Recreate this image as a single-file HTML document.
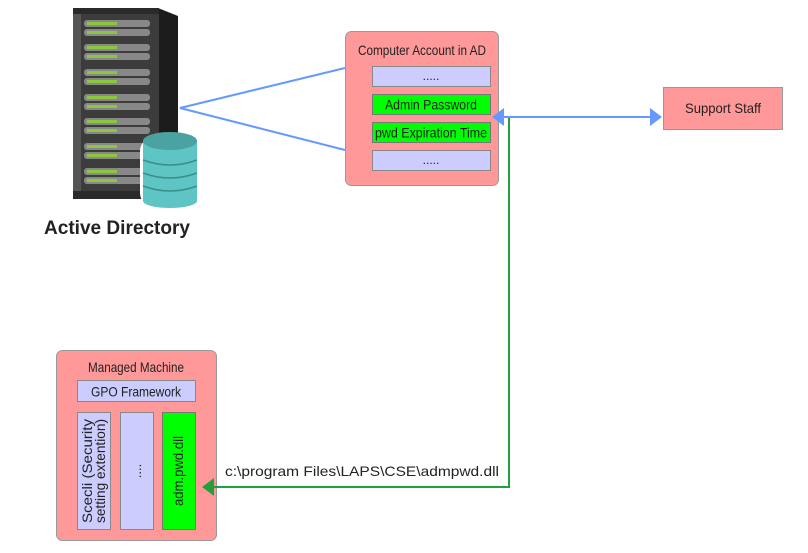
<!DOCTYPE html>
<html><head><style>
body{margin:0;width:808px;height:548px;background:#fff;overflow:hidden}
</style></head><body>
<svg width="808" height="548" xmlns="http://www.w3.org/2000/svg" font-family="Liberation Sans, sans-serif">
<!-- server -->
<polygon points="158,8 178,16 178,199 158,199" fill="#1c1c1c"/>
<rect x="73" y="8" width="86" height="191" fill="#3c3c3c"/>
<rect x="73" y="8" width="86" height="6" fill="#2a2a2a"/>
<rect x="73" y="191" width="86" height="8" fill="#2a2a2a"/>
<rect x="73" y="14" width="8" height="177" fill="#555"/>
<g>
<rect x="84" y="20" width="66" height="7" rx="3" fill="#888"/><rect x="87" y="22" width="30" height="3" fill="#8dc63f"/>
<rect x="84" y="29" width="66" height="7" rx="3" fill="#888"/><rect x="87" y="31" width="30" height="3" fill="#8dc63f"/>
<rect x="84" y="44" width="66" height="7" rx="3" fill="#888"/><rect x="87" y="46" width="30" height="3" fill="#8dc63f"/>
<rect x="84" y="53" width="66" height="7" rx="3" fill="#888"/><rect x="87" y="55" width="30" height="3" fill="#8dc63f"/>
<rect x="84" y="69" width="66" height="7" rx="3" fill="#888"/><rect x="87" y="71" width="30" height="3" fill="#8dc63f"/>
<rect x="84" y="78" width="66" height="7" rx="3" fill="#888"/><rect x="87" y="80" width="30" height="3" fill="#8dc63f"/>
<rect x="84" y="94" width="66" height="7" rx="3" fill="#888"/><rect x="87" y="96" width="30" height="3" fill="#8dc63f"/>
<rect x="84" y="103" width="66" height="7" rx="3" fill="#888"/><rect x="87" y="105" width="30" height="3" fill="#8dc63f"/>
<rect x="84" y="118" width="66" height="7" rx="3" fill="#888"/><rect x="87" y="120" width="30" height="3" fill="#8dc63f"/>
<rect x="84" y="127" width="66" height="7" rx="3" fill="#888"/><rect x="87" y="129" width="30" height="3" fill="#8dc63f"/>
<rect x="84" y="143" width="66" height="7" rx="3" fill="#888"/><rect x="87" y="145" width="30" height="3" fill="#8dc63f"/>
<rect x="84" y="152" width="66" height="7" rx="3" fill="#888"/><rect x="87" y="154" width="30" height="3" fill="#8dc63f"/>
<rect x="84" y="168" width="66" height="7" rx="3" fill="#888"/><rect x="87" y="170" width="30" height="3" fill="#8dc63f"/>
<rect x="84" y="177" width="66" height="7" rx="3" fill="#888"/><rect x="87" y="179" width="30" height="3" fill="#8dc63f"/>
</g>
<!-- database -->
<rect x="140" y="137" width="60" height="70" rx="14" fill="#fff"/>
<rect x="143" y="141" width="54" height="60" fill="#5ec4c4"/>
<ellipse cx="170" cy="201" rx="27" ry="7" fill="#5ec4c4"/>
<ellipse cx="170" cy="141" rx="27" ry="9" fill="#4aa3a0"/>
<path d="M143 160 Q170 170 197 160 M143 173 Q170 183 197 173 M143 186 Q170 196 197 186" stroke="#3a8f8c" stroke-width="1.5" fill="none"/>
<text x="117" y="234" font-size="19" font-weight="bold" fill="#222" text-anchor="middle" textLength="146" lengthAdjust="spacingAndGlyphs">Active Directory</text>
<!-- blue lines -->
<polyline points="345,68 180,108 345,150" stroke="#6699ff" stroke-width="2" fill="none"/>
<!-- computer account box -->
<rect x="345.5" y="31.5" width="153" height="154" rx="6" fill="#ff9999" stroke="#999"/>
<text x="422" y="55" font-size="14" text-anchor="middle" fill="#222" textLength="128" lengthAdjust="spacingAndGlyphs">Computer Account in AD</text>
<rect x="372.5" y="66.5" width="118" height="20" fill="#ccccff" stroke="#888"/>
<text x="431" y="80" font-size="12" text-anchor="middle" fill="#222">.....</text>
<rect x="372.5" y="94.5" width="118" height="20" fill="#00ff00" stroke="#777"/>
<text x="431" y="109.5" font-size="14" text-anchor="middle" fill="#222" textLength="92" lengthAdjust="spacingAndGlyphs">Admin Password</text>
<rect x="372.5" y="122.5" width="118" height="20" fill="#00ff00" stroke="#777"/>
<text x="431" y="137.5" font-size="14" text-anchor="middle" fill="#222" textLength="112" lengthAdjust="spacingAndGlyphs">pwd Expiration Time</text>
<rect x="372.5" y="150.5" width="118" height="20" fill="#ccccff" stroke="#888"/>
<text x="431" y="164" font-size="12" text-anchor="middle" fill="#222">.....</text>
<!-- support staff -->
<rect x="663.5" y="87.5" width="119" height="42" fill="#ff9999" stroke="#999"/>
<text x="723" y="113" font-size="14" text-anchor="middle" fill="#222" textLength="76" lengthAdjust="spacingAndGlyphs">Support Staff</text>
<!-- managed machine -->
<rect x="56.5" y="350.5" width="160" height="190" rx="6" fill="#ff9999" stroke="#999"/>
<text x="136" y="372" font-size="14" text-anchor="middle" fill="#222" textLength="96" lengthAdjust="spacingAndGlyphs">Managed Machine</text>
<rect x="77.5" y="380.5" width="118" height="21" fill="#ccccff" stroke="#888"/>
<text x="136" y="396.5" font-size="14" text-anchor="middle" fill="#222" textLength="90" lengthAdjust="spacingAndGlyphs">GPO Framework</text>
<rect x="77.5" y="412.5" width="33" height="117" fill="#ccccff" stroke="#888"/>
<rect x="120.5" y="412.5" width="33" height="117" fill="#ccccff" stroke="#888"/>
<rect x="162.5" y="412.5" width="33" height="117" fill="#00ff00" stroke="#777"/>
<text transform="translate(92,471) rotate(-90)" font-size="14" text-anchor="middle" fill="#222" textLength="104" lengthAdjust="spacingAndGlyphs">Scecli (Security</text>
<text transform="translate(105,471) rotate(-90)" font-size="14" text-anchor="middle" fill="#222" textLength="104" lengthAdjust="spacingAndGlyphs">setting extention)</text>
<text transform="translate(141,471) rotate(-90)" font-size="13" text-anchor="middle" fill="#222">....</text>
<text transform="translate(183,471) rotate(-90)" font-size="14" text-anchor="middle" fill="#222" textLength="70" lengthAdjust="spacingAndGlyphs">adm.pwd.dll</text>
<!-- green connector -->
<polyline points="509,117 509,487 212,487" stroke="#22a040" stroke-width="2" fill="none"/>
<polygon points="202,487 214,478 214,496" fill="#22a040"/>
<text x="362" y="476" font-size="14" text-anchor="middle" fill="#222" textLength="274" lengthAdjust="spacingAndGlyphs">c:\program Files\LAPS\CSE\admpwd.dll</text>
<!-- blue double arrow -->
<line x1="502" y1="117" x2="652" y2="117" stroke="#6699ff" stroke-width="2"/>
<polygon points="492,117 504,108 504,126" fill="#6699ff"/>
<polygon points="662,117 650,108 650,126" fill="#6699ff"/>
</svg>
</body></html>
